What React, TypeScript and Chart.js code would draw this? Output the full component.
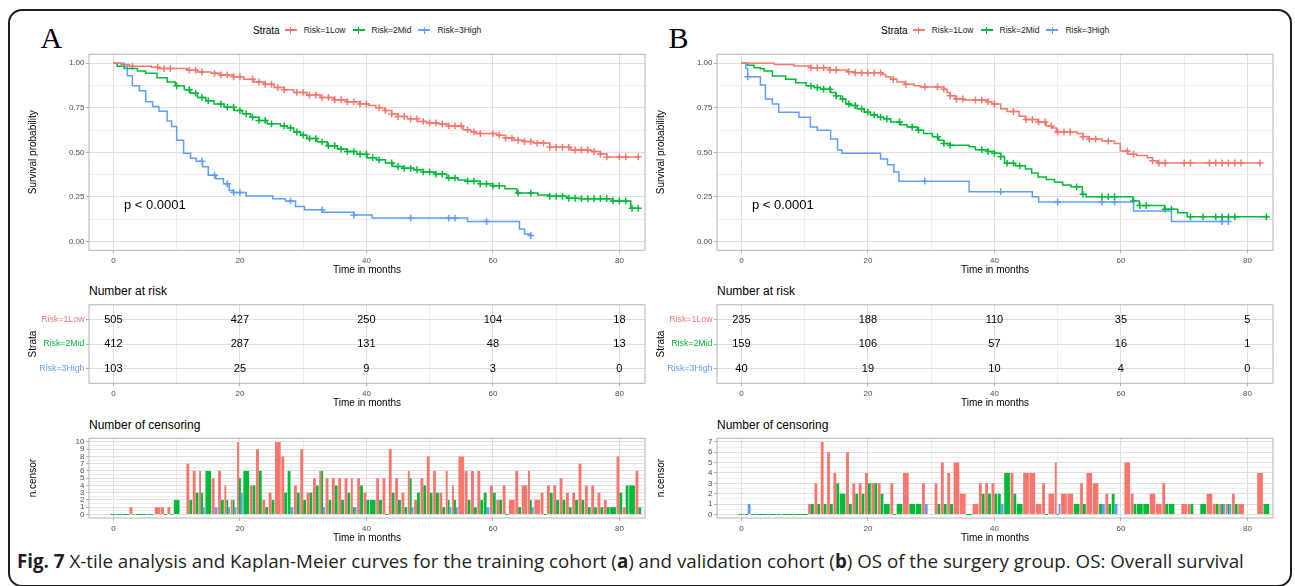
import React, { useEffect, useRef } from 'react';
import { Chart, registerables } from 'chart.js';

Chart.register(...registerables);
Chart.defaults.font.family = '"Liberation Sans", Arial, sans-serif';

// ---------------- labels & ticks ----------------
const STRATA = ['Risk=1Low', 'Risk=2Mid', 'Risk=3High'];
const STRATA_COLORS = ['#F8766D', '#00BA38', '#619CFF'];
const X_GRID = [0, 10, 20, 30, 40, 50, 60, 70, 80];
const X_TICK_VALUES = [0, 20, 40, 60, 80];
const X_TICK_LABELS = ['0', '20', '40', '60', '80'];
const KM_Y_GRID = [0, 0.125, 0.25, 0.375, 0.5, 0.625, 0.75, 0.875, 1];
const KM_Y_TICK_VALUES = [0, 0.25, 0.5, 0.75, 1];
const KM_Y_TICK_LABELS = ['0.00', '0.25', '0.50', '0.75', '1.00'];
const RISK_TIMES = [0, 20, 40, 60, 80];
const CENSOR_Y_TICKS_A = [0, 1, 2, 3, 4, 5, 6, 7, 8, 9, 10];
const CENSOR_Y_TICKS_B = [0, 1, 2, 3, 4, 5, 6, 7];
const P_VALUE_TEXT = 'p < 0.0001';
const P_VALUE_POS = [1.66, 0.2];
const X_TITLE = 'Time in months';

// ---------------- Panel A (training cohort) ----------------
const kmLowA = [[0,1],[1.2,0.993],[2.5,0.983],[6,0.978],[7.2,0.97],[11.7,0.961],[13.3,0.95],[15.4,0.943],[17,0.934],[19,0.924],[20.6,0.91],[22.2,0.895],[23.8,0.882],[25.4,0.863],[27,0.851],[28.5,0.836],[30.6,0.821],[32.7,0.808],[34.8,0.795],[36.9,0.784],[39,0.771],[40.4,0.762],[41.5,0.75],[42.9,0.734],[44,0.715],[44.9,0.701],[46.5,0.688],[48.1,0.673],[49.5,0.665],[51.4,0.659],[53,0.648],[55.3,0.627],[56.5,0.615],[57.3,0.605],[60.6,0.596],[62,0.58],[63.2,0.568],[65,0.56],[66.4,0.552],[69,0.528],[72.3,0.513],[75.6,0.504],[77,0.49],[78,0.474],[83,0.474]];
const kmMidA = [[0,1],[0.6,0.983],[1.7,0.97],[3.8,0.956],[5.1,0.943],[6.9,0.919],[8.5,0.895],[9.8,0.873],[11.2,0.851],[12.2,0.832],[13.3,0.808],[14.6,0.79],[15.9,0.771],[17.5,0.753],[19.1,0.734],[20.4,0.716],[21.7,0.697],[23,0.679],[24.3,0.66],[26.4,0.648],[27.5,0.637],[28.5,0.614],[29.6,0.596],[30.6,0.577],[32.2,0.559],[33.8,0.537],[35.4,0.518],[36.9,0.504],[38.5,0.489],[40.1,0.47],[41.6,0.458],[43,0.44],[44.2,0.421],[45.8,0.41],[47.5,0.402],[49,0.39],[50.8,0.378],[52.7,0.356],[54.5,0.345],[56,0.338],[58,0.323],[60,0.312],[61.9,0.295],[63.8,0.271],[67.1,0.26],[69,0.253],[71.7,0.242],[74,0.24],[78.9,0.227],[81.8,0.186],[83,0.186]];
const kmHighA = [[0,1],[1.7,0.983],[2.2,0.93],[3,0.873],[4.1,0.845],[5.1,0.784],[6.2,0.757],[7.2,0.73],[8.5,0.675],[9.2,0.645],[10,0.568],[11.1,0.494],[12.2,0.467],[13.1,0.45],[14.1,0.419],[15,0.371],[16.2,0.351],[17.4,0.323],[18.3,0.285],[19,0.275],[21,0.255],[25.2,0.24],[27.2,0.227],[28.8,0.196],[30.2,0.177],[33.1,0.164],[38,0.148],[40.9,0.131],[56,0.111],[64.2,0.07],[65,0.042],[65.8,0.033],[66,0.033]];

const riskLowA = [505, 427, 250, 104, 18];
const riskMidA = [412, 287, 131, 48, 13];
const riskHighA = [103, 25, 9, 3, 0];

const censorLowA = [[3,1],[7,1],[8,1],[9,1],[12,7],[13,6],[14,6],[16,5],[17,6],[18,4],[19,2],[20,10],[22,4],[23,9],[24,2],[25,3],[26,10],[27,8],[29,4],[30,9],[31,3],[32,5],[33,6],[34,5],[35,5],[36,5],[37,5],[38,5],[39,5],[40,3],[42,5],[43,5],[44,9],[45,5],[46,3],[47,6],[48,2],[49,5],[50,8],[51,6],[52,3],[53,6],[54,4],[55,8],[56,6],[57,6],[58,6],[60,4],[61,2],[62,4],[63,2],[64,6],[65,4],[66,6],[67,2],[68,3],[69,4],[70,4],[71,5],[72,3],[73,3],[74,7],[75,4],[76,4],[77,3],[78,2],[80,8],[81,1],[83,6]];
const censorMidA = [[0,0],[1,0],[2,0],[4,0],[5,0],[6,0],[8,0],[10,2],[12,2],[13,3],[14,3],[15,6],[17,2],[18,2],[19,2],[20,5],[21,6],[22,4],[23,6],[24,1],[25,2],[27,3],[28,6],[29,3],[30,2],[31,3],[32,4],[33,6],[34,2],[35,4],[36,2],[37,3],[38,1],[39,4],[40,2],[41,2],[42,2],[43,0],[44,3],[45,2],[46,1],[47,5],[48,3],[49,4],[50,3],[51,3],[52,1],[53,2],[54,2],[56,2],[57,1],[58,2],[59,3],[60,3],[61,2],[62,0],[64,1],[66,2],[68,0],[69,3],[70,2],[71,2],[72,1],[73,2],[74,2],[75,1],[76,1],[77,1],[78,1],[79,1],[80,3],[81,4],[82,4],[83,1]];
const censorHighA = [[0,0],[1,0],[3,0],[5,0],[6,0],[9,0],[14,1],[16,1],[18,1],[19,1],[20,3],[28,1],[33,1],[38,1],[47,1],[53,1],[54,1],[59,1],[66,1]];

// ---------------- Panel B (validation cohort) ----------------
const kmLowB = [[0,1],[5.2,0.993],[8.3,0.985],[11,0.974],[14,0.962],[16.7,0.952],[17.8,0.946],[22.3,0.937],[22.8,0.924],[23.6,0.91],[24.6,0.895],[25.9,0.882],[27.3,0.873],[28.3,0.867],[32,0.854],[32.5,0.836],[33,0.817],[33.8,0.799],[35.2,0.793],[38.8,0.784],[39.6,0.771],[41,0.745],[42,0.729],[43.9,0.703],[44.9,0.684],[46.9,0.67],[48.2,0.648],[49.2,0.637],[49.8,0.614],[53.1,0.605],[54,0.587],[55,0.574],[57,0.563],[59,0.55],[59.9,0.507],[61.1,0.489],[62.5,0.482],[64.2,0.47],[65,0.452],[65.8,0.44],[82.2,0.44]];
const kmMidB = [[0,1],[0.95,0.989],[2,0.974],[3,0.969],[3.6,0.956],[4.9,0.928],[7,0.91],[8.6,0.891],[10.2,0.873],[11.5,0.863],[12.5,0.854],[14.1,0.836],[14.9,0.817],[15.7,0.799],[16.5,0.771],[17.3,0.762],[18.3,0.744],[19.4,0.725],[20.4,0.71],[21.5,0.697],[22.5,0.688],[23.6,0.67],[25.2,0.655],[26.2,0.642],[27.8,0.624],[28.8,0.605],[30.2,0.587],[31.2,0.568],[32,0.55],[33,0.54],[36,0.531],[37,0.515],[39,0.504],[40,0.494],[41,0.476],[41.6,0.439],[43.3,0.424],[44.9,0.406],[45.9,0.384],[46.9,0.362],[48.2,0.347],[49.5,0.332],[50.8,0.317],[52.1,0.306],[53.9,0.264],[54.5,0.251],[61.9,0.227],[62.9,0.201],[66.9,0.181],[69,0.161],[70.5,0.138],[83.1,0.138]];
const kmHighB = [[0,1],[0.7,0.97],[1,0.924],[3,0.878],[3.8,0.799],[4.9,0.771],[5.9,0.725],[9.1,0.697],[10.9,0.642],[12,0.624],[14.1,0.574],[15.2,0.513],[15.9,0.494],[22,0.463],[23.1,0.43],[24.1,0.389],[24.9,0.338],[36,0.279],[46,0.251],[47,0.221],[62,0.17],[68,0.111],[77,0.111]];

const riskLowB = [235, 188, 110, 35, 5];
const riskMidB = [159, 106, 57, 16, 1];
const riskHighB = [40, 19, 10, 4, 0];

const censorLowB = [[11,1],[12,3],[13,7],[14,6],[15,4],[17,6],[18,3],[19,3],[20,4],[21,3],[22,3],[24,3],[26,4],[29,3],[31,3],[32,5],[33,4],[34,5],[35,2],[37,1],[38,3],[39,3],[40,3],[43,4],[45,4],[46,4],[47,1],[48,3],[49,2],[50,5],[51,2],[52,2],[54,3],[55,4],[56,3],[58,2],[61,5],[62,2],[65,2],[66,1],[67,3],[70,1],[71,1],[74,2],[75,1],[76,1],[77,1],[78,2],[79,1],[82,4]];
const censorMidB = [[0,0],[1,0],[2,0],[3,0],[4,0],[5,0],[6,0],[7,0],[8,0],[9,0],[10,0],[11,1],[12,1],[13,1],[14,1],[15,3],[16,2],[17,1],[18,2],[19,2],[20,3],[21,3],[22,2],[23,1],[24,0],[25,1],[27,1],[28,1],[31,1],[32,1],[33,1],[36,0],[38,2],[39,2],[40,2],[41,2],[42,4],[43,2],[44,1],[48,0],[50,0],[53,1],[54,1],[57,1],[58,1],[59,2],[62,1],[63,1],[64,1],[67,1],[68,1],[71,1],[73,1],[75,1],[76,1],[77,1],[78,1],[83,1]];
const censorHighB = [[0,0],[1,1],[2,0],[4,0],[6,0],[8,0],[29,1],[41,1],[50,1],[57,1],[59,1],[76,1],[77,1]];

// ---------------- styling / geometry ----------------
const TICK_COLOR = '#4D4D4D';
const GRID_MAJOR = '#DEDEDE';
const GRID_MINOR = '#EDEDED';
const TICK_MARK = '#B3B3B3';
const PANEL_BORDER = '#B3B3B3';
const Y_AXIS_W = 69;
const X_AXIS_H = 27;
const PANEL_W = 556;
const RIGHT_PAD = 6;
const X_MIN = -3.86;
const X_MAX = 84.05;
const PANEL_LEFTS = [89, 717];

const key3 = (v: number) => Number(v).toFixed(3);

function linearAxis(o: any) {
  const labelMap = new Map<string, string>(o.values.map((v: number, i: number) => [key3(v), o.labels[i]]));
  const major = (v: any) => v !== undefined && labelMap.has(key3(v));
  return {
    type: 'linear',
    min: o.min,
    max: o.max,
    offset: false,
    afterBuildTicks: (s: any) => { s.ticks = o.grid.map((v: number) => ({ value: v })); },
    afterFit: (s: any) => { if (o.axis === 'x') s.height = X_AXIS_H; else s.width = Y_AXIS_W; },
    ticks: {
      autoSkip: false,
      maxRotation: 0,
      minRotation: 0,
      padding: o.axis === 'x' ? 2.5 : 1.5,
      font: { size: o.tickFont ?? 8 },
      color: (c: any) => {
        const v = c.tick ? c.tick.value : undefined;
        if (o.tickColors && major(v)) {
          const idx = o.values.findIndex((x: number) => key3(x) === key3(v));
          return o.tickColors[idx];
        }
        return TICK_COLOR;
      },
      callback: (v: any) => labelMap.get(key3(Number(v))) ?? '',
    },
    grid: {
      offset: false,
      lineWidth: 1,
      drawTicks: true,
      tickLength: 3,
      color: (c: any) => (major(c.tick ? c.tick.value : undefined) ? GRID_MAJOR : GRID_MINOR),
      tickColor: (c: any) => (major(c.tick ? c.tick.value : undefined) ? TICK_MARK : 'rgba(0,0,0,0)'),
    },
    border: { display: false },
    title: {
      display: true,
      text: o.title,
      color: '#000',
      font: { size: 10 },
      padding: o.axis === 'x' ? { top: 0, bottom: 1 } : { top: 7, bottom: 0 },
    },
  };
}

function xAxis() {
  return linearAxis({ axis: 'x', min: X_MIN, max: X_MAX, grid: X_GRID, values: X_TICK_VALUES, labels: X_TICK_LABELS, title: X_TITLE });
}

const panelBorderPlugin = {
  id: 'panelBorder',
  afterDatasetsDraw(chart: any) {
    const { ctx, chartArea: a } = chart;
    ctx.save();
    ctx.strokeStyle = PANEL_BORDER;
    ctx.lineWidth = 1;
    ctx.strokeRect(a.left, a.top, a.right - a.left, a.bottom - a.top);
    ctx.restore();
  },
};

const pValuePlugin = {
  id: 'pValue',
  afterDatasetsDraw(chart: any, _args: any, opts: any) {
    if (!opts || !opts.text) return;
    const { ctx } = chart;
    const x = chart.scales.x.getPixelForValue(opts.x);
    const y = chart.scales.y.getPixelForValue(opts.y);
    ctx.save();
    ctx.fillStyle = '#000';
    ctx.font = '13px "Liberation Sans", Arial, sans-serif';
    ctx.textAlign = 'left';
    ctx.textBaseline = 'middle';
    ctx.fillText(opts.text, x, y);
    ctx.restore();
  },
};

const riskTextPlugin = {
  id: 'riskText',
  afterDatasetsDraw(chart: any) {
    const { ctx } = chart;
    ctx.save();
    ctx.fillStyle = '#000';
    ctx.font = '11px "Liberation Sans", Arial, sans-serif';
    ctx.textAlign = 'center';
    ctx.textBaseline = 'middle';
    chart.data.datasets.forEach((ds: any, i: number) => {
      const meta = chart.getDatasetMeta(i);
      meta.data.forEach((el: any, j: number) => {
        ctx.fillText(String(ds.data[j].v), el.x, el.y);
      });
    });
    ctx.restore();
  },
};

function survAt(curve: number[][], t: number) {
  let s = curve[0][1];
  for (const [x, y] of curve) {
    if (x <= t) s = y;
    else break;
  }
  return s;
}

function baseOptions(padTop: number, padBottom: number) {
  return {
    responsive: false,
    animation: false,
    devicePixelRatio: 1,
    events: [],
    layout: { padding: { top: padTop, bottom: padBottom, left: 0, right: RIGHT_PAD } },
  };
}

function kmConfig(curves: number[][][], censors: number[][][], padTop: number, padBottom: number) {
  const datasets: any[] = [];
  curves.forEach((curve, i) => {
    datasets.push({
      type: 'line',
      data: curve.map(([x, y]) => ({ x, y })),
      borderColor: STRATA_COLORS[i],
      borderWidth: 1.5,
      pointRadius: 0,
      stepped: true,
      fill: false,
      tension: 0,
    });
  });
  censors.forEach((pairs, i) => {
    const curve = curves[i];
    const end = curve[curve.length - 1][0];
    const pts = pairs.filter(([t, n]) => n > 0 && t <= end).map(([t]) => ({ x: t, y: survAt(curve, t) }));
    datasets.push({
      type: 'scatter',
      data: pts,
      borderColor: STRATA_COLORS[i],
      backgroundColor: STRATA_COLORS[i],
      pointStyle: 'cross',
      pointRadius: 3.4,
      borderWidth: 1.5,
      showLine: false,
    });
  });
  return {
    type: 'line',
    data: { datasets },
    options: {
      ...baseOptions(padTop, padBottom),
      scales: {
        x: xAxis(),
        y: linearAxis({ axis: 'y', min: -0.05, max: 1.05, grid: KM_Y_GRID, values: KM_Y_TICK_VALUES, labels: KM_Y_TICK_LABELS, title: 'Survival probability' }),
      },
      plugins: {
        legend: { display: false },
        tooltip: { enabled: false },
        pValue: { text: P_VALUE_TEXT, x: P_VALUE_POS[0], y: P_VALUE_POS[1] },
      },
    },
    plugins: [panelBorderPlugin, pValuePlugin],
  };
}

function riskConfig(rows: number[][], padTop: number, padBottom: number) {
  const datasets = rows.map((row, i) => ({
    type: 'scatter',
    data: RISK_TIMES.map((t, j) => ({ x: t, y: rows.length - i, v: row[j] })),
    pointRadius: 0,
    showLine: false,
  }));
  return {
    type: 'scatter',
    data: { datasets },
    options: {
      ...baseOptions(padTop, padBottom),
      scales: {
        x: xAxis(),
        y: linearAxis({
          axis: 'y', min: 0.4, max: 3.6, grid: [1, 2, 3], values: [1, 2, 3],
          labels: [STRATA[2], STRATA[1], STRATA[0]],
          tickColors: [STRATA_COLORS[2], STRATA_COLORS[1], STRATA_COLORS[0]],
          tickFont: 8.8, title: 'Strata',
        }),
      },
      plugins: { legend: { display: false }, tooltip: { enabled: false } },
    },
    plugins: [panelBorderPlugin, riskTextPlugin],
  };
}

function censorConfig(series: number[][][], yTicks: number[], padTop: number, padBottom: number) {
  const slotSet = new Set<number>();
  series.forEach((pairs) => pairs.forEach(([t]) => slotSet.add(t)));
  const slots = Array.from(slotSet).sort((a, b) => a - b);
  const datasets = series.map((pairs, i) => {
    const m = new Map<number, number>(pairs.map(([t, n]) => [t, n]));
    return {
      type: 'bar',
      data: slots.map((t) => ({ x: t, y: m.has(t) ? m.get(t) : null })),
      backgroundColor: STRATA_COLORS[i],
      borderColor: STRATA_COLORS[i],
      borderWidth: 0,
      skipNull: true,
      categoryPercentage: 0.9,
      barPercentage: 1,
      minBarLength: 1,
    };
  });
  const top = yTicks[yTicks.length - 1];
  const pad = top * 0.05;
  const grid: number[] = [];
  yTicks.forEach((v, i) => {
    grid.push(v);
    if (i < yTicks.length - 1) grid.push(v + 0.5);
  });
  return {
    type: 'bar',
    data: { datasets },
    options: {
      ...baseOptions(padTop, padBottom),
      scales: {
        x: xAxis(),
        y: linearAxis({ axis: 'y', min: -pad, max: top + pad, grid, values: yTicks, labels: yTicks.map(String), title: 'n.censor' }),
      },
      plugins: { legend: { display: false }, tooltip: { enabled: false } },
    },
    plugins: [panelBorderPlugin],
  };
}

function ChartCanvas({ left, top, width, height, config }: any) {
  const ref = useRef<HTMLCanvasElement>(null);
  useEffect(() => {
    const chart = new Chart(ref.current as HTMLCanvasElement, config);
    return () => chart.destroy();
  }, []);
  return <canvas ref={ref} width={width} height={height} style={{ position: 'absolute', left, top, width, height }} />;
}

function LegendKey({ color }: { color: string }) {
  return (
    <span style={{ position: 'relative', display: 'inline-block', width: 12, height: 8, marginRight: 7 }}>
      <span style={{ position: 'absolute', left: 0, top: 3.25, width: 12, height: 1.5, background: color }} />
      <span style={{ position: 'absolute', left: 5.25, top: 0.5, width: 1.5, height: 7, background: color }} />
    </span>
  );
}

function Legend({ left }: { left: number }) {
  return (
    <div style={{ position: 'absolute', left, top: 23, height: 14, display: 'flex', alignItems: 'center', whiteSpace: 'nowrap', color: '#000' }}>
      <span style={{ fontSize: 10, marginRight: 5 }}>Strata</span>
      {STRATA.map((s, i) => (
        <React.Fragment key={s}>
          <LegendKey color={STRATA_COLORS[i]} />
          <span style={{ fontSize: 8.5, marginRight: 7, color: '#222' }}>{s}</span>
        </React.Fragment>
      ))}
    </div>
  );
}

const ROWS = {
  km: { top: 48, padTop: 3.5, panelH: 198.8 },
  risk: { top: 298, padTop: 4.3, panelH: 81 },
  censor: { top: 432, padTop: 4, panelH: 82 },
};

function geom(row: { top: number; padTop: number; panelH: number }) {
  const total = row.padTop + row.panelH + X_AXIS_H;
  const height = Math.ceil(total);
  return { height, padBottom: height - total };
}

function Panel({ idx, letter, km, censor, risk, censorTicks }: any) {
  const left = PANEL_LEFTS[idx] - Y_AXIS_W;
  const width = Y_AXIS_W + PANEL_W + RIGHT_PAD;
  const gk = geom(ROWS.km);
  const gr = geom(ROWS.risk);
  const gc = geom(ROWS.censor);
  const shift = idx === 0 ? 0 : PANEL_LEFTS[1] - PANEL_LEFTS[0];
  return (
    <>
      <div style={{ position: 'absolute', left: 40.5 + shift, top: 23, fontFamily: '"Liberation Serif", "Times New Roman", serif', fontSize: 30, lineHeight: '30px', color: '#000' }}>{letter}</div>
      <Legend left={253 + shift} />
      <ChartCanvas left={left} top={ROWS.km.top} width={width} height={gk.height} config={kmConfig(km, censor, ROWS.km.padTop, gk.padBottom)} />
      <div style={{ position: 'absolute', left: PANEL_LEFTS[idx], top: 284, fontSize: 12, lineHeight: '14px', color: '#000' }}>Number at risk</div>
      <ChartCanvas left={left} top={ROWS.risk.top} width={width} height={gr.height} config={riskConfig(risk, ROWS.risk.padTop, gr.padBottom)} />
      <div style={{ position: 'absolute', left: PANEL_LEFTS[idx], top: 418, fontSize: 12, lineHeight: '14px', color: '#000' }}>Number of censoring</div>
      <ChartCanvas left={left} top={ROWS.censor.top} width={width} height={gc.height} config={censorConfig(censor, censorTicks, ROWS.censor.padTop, gc.padBottom)} />
    </>
  );
}

export default function App() {
  useEffect(() => {
    document.body.style.margin = '0';
  }, []);
  return (
    <div style={{ position: 'fixed', left: 0, top: 0, width: 1295, height: 586, background: '#fff', overflow: 'hidden', fontFamily: '"Liberation Sans", Arial, sans-serif' }}>
      <div style={{ position: 'absolute', left: 8, top: 9, width: 1284, height: 578, boxSizing: 'border-box', border: '2px solid #1e1e1e', borderRadius: 14 }} />
      <Panel idx={0} letter="A" km={[kmLowA, kmMidA, kmHighA]} censor={[censorLowA, censorMidA, censorHighA]} risk={[riskLowA, riskMidA, riskHighA]} censorTicks={CENSOR_Y_TICKS_A} />
      <Panel idx={1} letter="B" km={[kmLowB, kmMidB, kmHighB]} censor={[censorLowB, censorMidB, censorHighB]} risk={[riskLowB, riskMidB, riskHighB]} censorTicks={CENSOR_Y_TICKS_B} />
      <div style={{ position: 'absolute', left: 17, top: 550, fontFamily: '"Open Sans", sans-serif', fontSize: 18.75, lineHeight: '22px', color: '#231f20', whiteSpace: 'nowrap' }}>
        <b>Fig. 7</b> X-tile analysis and Kaplan-Meier curves for the training cohort (<b>a</b>) and validation cohort (<b>b</b>) OS of the surgery group. OS: Overall survival
      </div>
    </div>
  );
}
